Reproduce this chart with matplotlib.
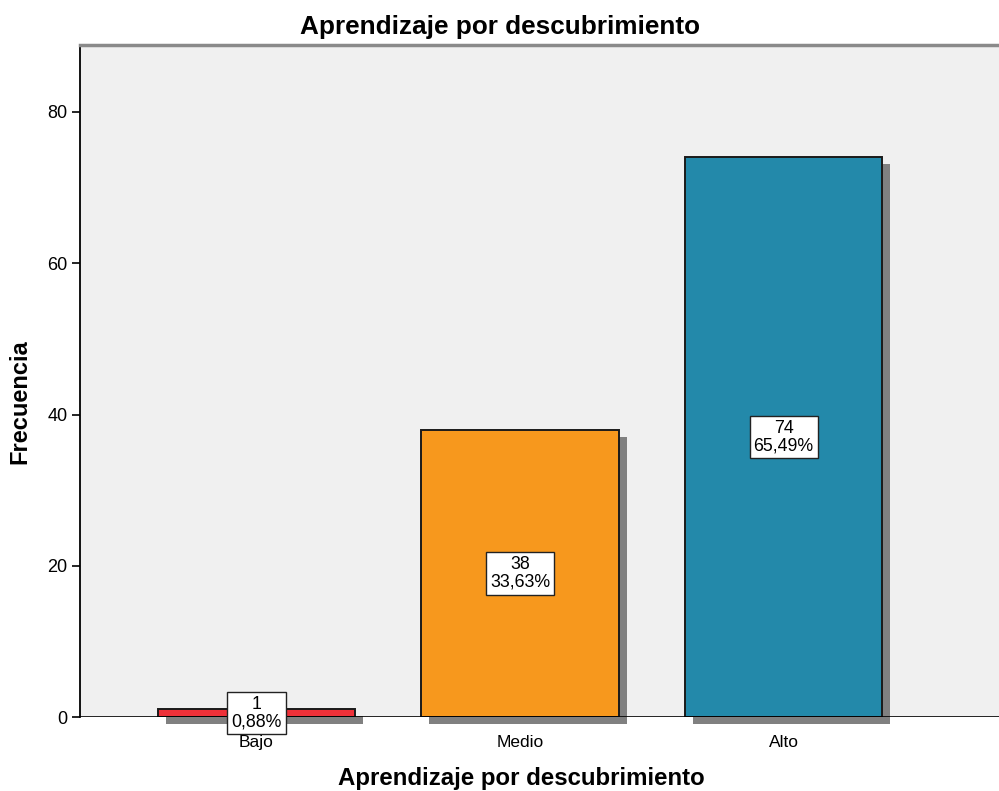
import matplotlib
matplotlib.use("Agg")
import matplotlib.pyplot as plt
import matplotlib.transforms as mtransforms

plt.rcParams['font.family'] = ['Liberation Sans', 'DejaVu Sans']

categories = ["Bajo", "Medio", "Alto"]
counts = [1, 38, 74]
percents = ["0,88%", "33,63%", "65,49%"]
colors = ["#EE3139", "#F7981D", "#2389AA"]
yticks = [0, 20, 40, 60, 80]

W, H = 999, 791
fig = plt.figure(figsize=(W / 100, H / 100), dpi=100)
ax_left, ax_right, ax_bottom, ax_top = 80, 1005, 717, 45
ax = fig.add_axes([ax_left / W, 1 - ax_bottom / H, (ax_right - ax_left) / W, (ax_bottom - ax_top) / H])
ax.set_facecolor("#F0F0F0")

x = list(range(len(categories)))
width = 0.748

shadow_tr = ax.transData + mtransforms.ScaledTranslation(8 / 100, -7 / 100, fig.dpi_scale_trans)
shadows = ax.bar(x, counts, width=width, color="#808080", linewidth=0, zorder=1)
for s in shadows:
    s.set_transform(shadow_tr)
    s.set_clip_on(False)

bars = ax.bar(x, counts, width=width, color=colors, edgecolor="#1a1a1a", linewidth=1.4, zorder=2)

ax.axhline(0, color="black", linewidth=1.2, zorder=3)

for xi, c, p in zip(x, counts, percents):
    ax.text(xi, c / 2, f"{c}\n{p}", ha="center", va="center", fontsize=12.8, linespacing=1.05,
            zorder=5, clip_on=False,
            bbox=dict(boxstyle="square,pad=0.22", facecolor="white", edgecolor="#222222", linewidth=1.0))

ax.set_xlim(-0.67, -0.67 + (ax_right - ax_left) / 263.5)
ax.set_ylim(0, (ax_bottom - ax_top) / 7.5625)
ax.set_yticks(yticks)
ax.set_yticklabels([str(t) for t in yticks], fontsize=13)
ax.set_xticks(x)
ax.set_xticklabels(categories, fontsize=12.5)
ax.tick_params(axis="x", length=0, pad=13)
ax.tick_params(axis="y", length=6, width=1.2, color="black", pad=3)

for sp in ["right", "bottom"]:
    ax.spines[sp].set_visible(False)
ax.spines["left"].set_color("black")
ax.spines["left"].set_linewidth(1.3)
ax.spines["top"].set_color("#8a8a8a")
ax.spines["top"].set_linewidth(2.5)

fig.text(0.5, 1 - 27 / H, "Aprendizaje por descubrimiento", ha="center", va="center",
         fontsize=18.8, fontweight="bold")
fig.text(521 / W, 1 - 778 / H, "Aprendizaje por descubrimiento", ha="center", va="center",
         fontsize=17.3, fontweight="bold")
fig.text(20 / W, 1 - 402 / H, "Frecuencia", ha="center", va="center", rotation=90,
         fontsize=17, fontweight="bold")

fig.savefig("out.png", dpi=100)
